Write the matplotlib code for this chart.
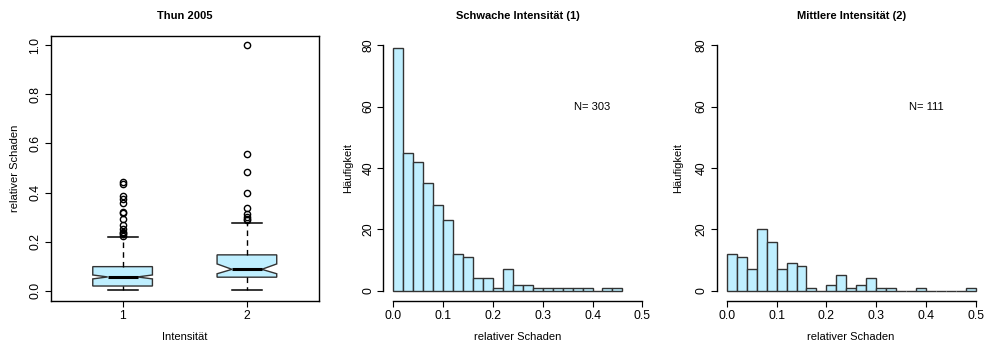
import numpy as np
import matplotlib
matplotlib.use("Agg")
import matplotlib.pyplot as plt

plt.rcParams['font.family'] = ['Liberation Sans', 'DejaVu Sans']
plt.rcParams['font.size'] = 8

FILL = "#BFEFFF"
EDGE = "#333333"

# Thun 2005: box statistics of relative damage per intensity class
intensities = [1, 2]
q1 = [0.019, 0.055]
median = [0.056, 0.087]
q3 = [0.098, 0.146]
whisker_lo = [0.004, 0.003]
whisker_hi = [0.220, 0.276]
notch_lo = [0.048, 0.069]
notch_hi = [0.064, 0.109]
outliers_1 = [0.444, 0.433, 0.387, 0.373, 0.357, 0.322, 0.316, 0.294,
              0.267, 0.251, 0.241, 0.234, 0.229, 0.223]
outliers_2 = [1.0, 0.558, 0.482, 0.400, 0.339, 0.312, 0.300, 0.294, 0.289]

# histogram counts, bin width 0.02 starting at 0
bin_width = 0.02
counts_weak = [79, 45, 42, 35, 28, 23, 12, 11, 4, 4, 1, 7, 2, 2, 1, 1, 1, 1,
               1, 1, 0, 1, 1]
counts_medium = [12, 11, 7, 20, 16, 7, 9, 8, 1, 0, 2, 5, 1, 2, 4, 1, 1, 0,
                 0, 1, 0, 0, 0, 0, 1]
n_weak = 303
n_medium = 111

W, H = 984, 345
fig = plt.figure(figsize=(W / 100, H / 100), dpi=100)
bottom = 44.5 / H
height = 265 / H
ax1 = fig.add_axes([50.5 / W, bottom, 268.5 / W, height])
ax2 = fig.add_axes([383.3 / W, bottom, 269 / W, height])
ax3 = fig.add_axes([716.8 / W, bottom, 269 / W, height])


def style_ticks(ax):
    ax.tick_params(direction='out', length=4, width=0.8, pad=2.5,
                   colors='black', labelsize=8.8)
    ax.tick_params(axis='y', labelrotation=90)
    for lbl in ax.get_yticklabels():
        lbl.set_va('center')


# --- boxplot ---
outliers = [outliers_1, outliers_2]
stats = []
for i in range(len(intensities)):
    stats.append(dict(med=median[i], q1=q1[i], q3=q3[i],
                      whislo=whisker_lo[i], whishi=whisker_hi[i],
                      cilo=notch_lo[i], cihi=notch_hi[i],
                      fliers=outliers[i], label=str(intensities[i])))
ax1.bxp(stats, positions=intensities, widths=0.48, shownotches=True,
        patch_artist=True,
        boxprops=dict(facecolor=FILL, edgecolor=EDGE, linewidth=1.0),
        medianprops=dict(color='black', linewidth=2.2),
        whiskerprops=dict(color='black', linewidth=1.0, linestyle=(0, (4, 3))),
        capprops=dict(color='black', linewidth=1.1),
        flierprops=dict(marker='o', markerfacecolor='none',
                        markeredgecolor='black', markersize=4.5,
                        markeredgewidth=1.0))
ax1.set_xlim(0.42, 2.58)
ax1.set_ylim(-0.04, 1.04)
ax1.set_yticks([0.0, 0.2, 0.4, 0.6, 0.8, 1.0])
ax1.set_yticklabels(["0.0", "0.2", "0.4", "0.6", "0.8", "1.0"])
for sp in ax1.spines.values():
    sp.set_linewidth(1.0)
style_ticks(ax1)
ax1.text(0.5, 1.075, "Thun 2005", transform=ax1.transAxes, ha='center',
         va='center', fontweight='bold', fontsize=8)
fig.text(15 / W, 1 - 168 / H, "relativer Schaden", rotation=90,
         ha='center', va='center')
fig.text(185 / W, 1 - 337.5 / H, "Intensität", ha='center', va='center')


# --- histograms ---
def draw_hist(ax, counts, n, title, ylab_x, centre_x):
    lefts = np.arange(len(counts)) * bin_width
    ax.bar(lefts, counts, width=bin_width, align='edge', color=FILL,
           edgecolor=EDGE, linewidth=1.0)
    ax.set_xlim(-0.02, 0.52)
    ax.set_ylim(-3.2, 83.2)
    ax.set_xticks([0.0, 0.1, 0.2, 0.3, 0.4, 0.5])
    ax.set_xticklabels(["0.0", "0.1", "0.2", "0.3", "0.4", "0.5"])
    ax.set_yticks([0, 20, 40, 60, 80])
    ax.spines['top'].set_visible(False)
    ax.spines['right'].set_visible(False)
    ax.spines['left'].set_bounds(0, 80)
    ax.spines['bottom'].set_bounds(0, 0.5)
    ax.spines['left'].set_linewidth(1.0)
    ax.spines['bottom'].set_linewidth(1.0)
    style_ticks(ax)
    ax.text(0.4, 60, "N= %d" % n, ha='center', va='center')
    ax.text(0.5, 1.075, title, transform=ax.transAxes, ha='center',
            va='center', fontweight='bold', fontsize=8)
    fig.text(ylab_x / W, 1 - 168 / H, "Häufigkeit", rotation=90,
             ha='center', va='center')
    fig.text(centre_x / W, 1 - 337.5 / H, "relativer Schaden",
             ha='center', va='center')


draw_hist(ax2, counts_weak, n_weak, "Schwache Intensität (1)", 348.3, 517.5)
draw_hist(ax3, counts_medium, n_medium, "Mittlere Intensität (2)", 678.3, 851)

fig.savefig("out.png", dpi=100)
